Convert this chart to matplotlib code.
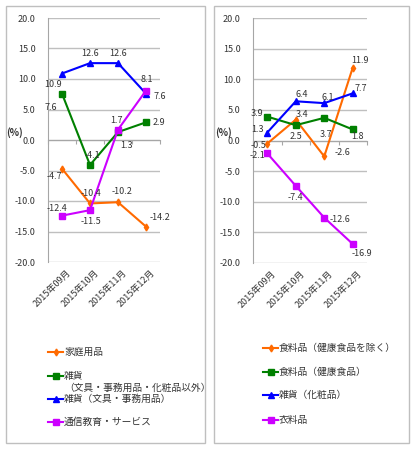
import matplotlib
matplotlib.use("Agg")
import matplotlib.pyplot as plt
from matplotlib.patches import Rectangle
from matplotlib.lines import Line2D

plt.rcParams['font.family'] = ['Noto Sans CJK JP', 'DejaVu Sans']

# データ
months = ['2015年09月', '2015年10月', '2015年11月', '2015年12月']

left_names = ['家庭用品', '雑貨\n（文具・事務用品・化粧品以外）', '雑貨（文具・事務用品）', '通信教育・サービス']
katei = [-4.7, -10.4, -10.2, -14.2]
zakka_other = [7.6, -4.1, 1.3, 2.9]
zakka_bungu = [10.9, 12.6, 12.6, 7.6]
tsushin = [-12.4, -11.5, 1.7, 8.1]

right_names = ['食料品（健康食品を除く）', '食料品（健康食品）', '雑貨（化粧品）', '衣料品']
food = [-0.5, 3.4, -2.6, 11.9]
health = [3.9, 2.5, 3.7, 1.8]
cosme = [1.3, 6.4, 6.1, 7.7]
clothes = [-2.1, -7.4, -12.6, -16.9]

colors = ['#FF6A00', '#008000', '#0000FF', '#CC00FF']
markers = ['d', 's', '^', 's']
msizes = [3.5, 4.5, 4.5, 4.5]

# ラベル位置 (ピクセルオフセット)
left_off = [
    [(-8, -8), (1, 10), (4, 11), (14, 9)],
    [(-11, -14), (2, 10), (9, -13), (13, 0)],
    [(-9, -11), (0, 10), (0, 10), (14, -3)],
    [(-5, 7), (1, -11), (-2, 9), (1, 11)],
]
right_off = [
    [(-9, -2), (6, 5), (18, 4), (7, 7)],
    [(-10, 3), (0, -11), (2, -17), (5, -7)],
    [(-10, 3), (6, 7), (4, 6), (8, 5)],
    [(-10, -2), (0, -12), (16, -2), (9, -9)],
]

W, H = 416, 450
fig = plt.figure(figsize=(W / 100, H / 100), dpi=100)


def px(x0, y0, x1, y1):
    return [x0 / W, 1 - y1 / H, (x1 - x0) / W, (y1 - y0) / H]


# 枠
for x0, x1 in [(6, 205), (214, 409)]:
    fig.add_artist(Rectangle((x0 / W, 1 - 443 / H), (x1 - x0) / W, 437 / H,
                             transform=fig.transFigure, fill=False,
                             edgecolor='#BFBFBF', lw=1))


def draw(ax, series, offsets, pct_x):
    xs = range(len(months))
    for i, vals in enumerate(series):
        ax.plot(xs, vals, color=colors[i], marker=markers[i], ms=msizes[i],
                lw=1.5, zorder=3)
        for j, v in enumerate(vals):
            ax.annotate(f'{v:.1f}', (j, v), xytext=offsets[i][j],
                        textcoords='offset pixels', ha='center', va='center',
                        fontsize=6.5, color='#333333', zorder=4)
    ax.set_xlim(-0.5, 3.5)
    ax.set_ylim(-20, 20)
    ax.set_yticks([-20, -15, -10, -5, 0, 5, 10, 15, 20])
    ax.set_yticklabels([f'{t:.1f}' for t in ax.get_yticks()])
    ax.yaxis.grid(True, color='#BFBFBF', lw=1)
    ax.set_axisbelow(True)
    for s in ['top', 'right']:
        ax.spines[s].set_visible(False)
    ax.spines['left'].set_color('#A6A6A6')
    ax.spines['bottom'].set_position(('data', 0))
    ax.spines['bottom'].set_color('#A6A6A6')
    ax.set_xticks([-0.5, 0.5, 1.5, 2.5, 3.5])
    ax.set_xticklabels([])
    ax.tick_params(axis='x', length=3, color='#A6A6A6', direction='out')
    ax.tick_params(axis='y', length=0, pad=9, labelsize=6.5, labelcolor='#333333')
    for j, m in enumerate(months):
        ax.annotate(m, (j, 0), xycoords=('data', 'axes fraction'),
                    xytext=(4, -6), textcoords='offset pixels',
                    rotation=45, rotation_mode='anchor', ha='right', va='top',
                    fontsize=6.5, color='#333333')
    fig.text(pct_x / W, 1 - 133 / H, '(%)', fontsize=7, fontweight='bold',
             ha='center', va='center', color='#333333')


ax1 = fig.add_axes(px(48, 18, 160, 262))
draw(ax1, [katei, zakka_other, zakka_bungu, tsushin], left_off, 15)
ax2 = fig.add_axes(px(253, 18, 367, 263))
draw(ax2, [food, health, cosme, clothes], right_off, 224)


# 凡例
def legend(x0, ys, names):
    for i, (y, name) in enumerate(zip(ys, names)):
        yf = 1 - y / H
        fig.add_artist(Line2D([x0 / W, (x0 + 15) / W], [yf, yf],
                              transform=fig.transFigure, color=colors[i], lw=1.5))
        fig.add_artist(Line2D([(x0 + 7.5) / W], [yf], transform=fig.transFigure,
                              color=colors[i], marker=markers[i], ms=msizes[i],
                              lw=0))
        for k, ln in enumerate(name.split('\n')):
            fig.text((x0 + 16) / W, 1 - (y + k * 12) / H, ln, fontsize=7,
                     ha='left', va='center', color='#333333')


legend(48, [352, 376, 399, 422], left_names)
legend(263, [348, 372, 395, 420], right_names)

fig.savefig('out.png', dpi=100)
